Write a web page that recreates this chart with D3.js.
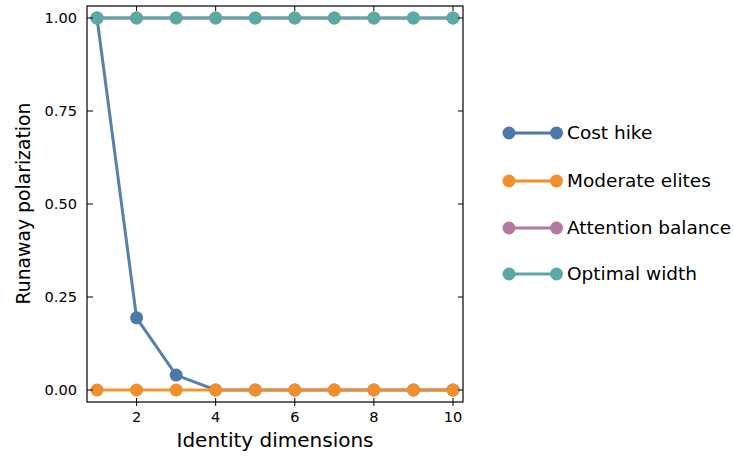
<!DOCTYPE html>
<html><head><meta charset="utf-8">
<script src="https://cdn.jsdelivr.net/npm/d3@7"></script>
<style>body{margin:0;background:#fff}svg{display:block;font-family:"DejaVu Sans",sans-serif}</style>
</head><body><svg id="c" width="734" height="456"></svg>
<script>
const dims = [1,2,3,4,5,6,7,8,9,10];
const costHike = [1.0,0.194,0.040,0,0,0,0,0,0,0];
const moderateElites = [0,0,0,0,0,0,0,0,0,0];
const attentionBalance = [1,1,1,1,1,1,1,1,1,1];
const optimalWidth = [1,1,1,1,1,1,1,1,1,1];
const seriesNames = ["Cost hike","Moderate elites","Attention balance","Optimal width"];
const seriesColors = ["#4e79a7","#f28e2b","#b07aa1","#5aa9a3"];
const xTicks = [2,4,6,8,10];
const yTicks = [0,0.25,0.5,0.75,1.0];

const series = [costHike, moderateElites, attentionBalance, optimalWidth];
const svg = d3.select("#c");
const L=87,R=463,T=6,B=402;
const x = d3.scaleLinear().domain([0.747,10.253]).range([L,R]);
const y = d3.scaleLinear().domain([-0.0323,1.0323]).range([B,T]);

const g = svg.append("g");
series.forEach((vals,i)=>{
  const pts = dims.map((d,j)=>[d,vals[j]]);
  g.append("path").datum(pts)
    .attr("fill","none").attr("stroke",seriesColors[i]).attr("stroke-width",3)
    .attr("stroke-opacity",0.95)
    .attr("d",d3.line().x(d=>x(d[0])).y(d=>y(d[1])));
  g.selectAll(null).data(pts).enter().append("circle")
    .attr("cx",d=>x(d[0])).attr("cy",d=>y(d[1])).attr("r",6.5)
    .attr("fill",seriesColors[i]);
});

svg.append("rect").attr("x",L).attr("y",T).attr("width",R-L).attr("height",B-T)
  .attr("fill","none").attr("stroke","#000").attr("stroke-width",1.2);

const xa = svg.append("g").attr("font-size",14.6).attr("fill","#000");
xTicks.forEach(t=>{
  const px = x(t);
  svg.append("line").attr("x1",px).attr("x2",px).attr("y1",B-4).attr("y2",B+4).attr("stroke","#000").attr("stroke-width",1);
  svg.append("line").attr("x1",px).attr("x2",px).attr("y1",T).attr("y2",T+5).attr("stroke","#000").attr("stroke-width",1);
  xa.append("text").attr("x",px).attr("y",B+20).attr("text-anchor","middle").text(d3.format("d")(t));
});
const ya = svg.append("g").attr("font-size",14.6).attr("fill","#000");
yTicks.forEach(t=>{
  const py = y(t);
  svg.append("line").attr("x1",L).attr("x2",L+6).attr("y1",py).attr("y2",py).attr("stroke","#000").attr("stroke-width",1);
  svg.append("line").attr("x1",R-5).attr("x2",R).attr("y1",py).attr("y2",py).attr("stroke","#000").attr("stroke-width",1);
  ya.append("text").attr("x",L-10).attr("y",py).attr("dy","0.35em").attr("text-anchor","end").text(d3.format(".2f")(t));
});

svg.append("text").attr("x",275).attr("y",447).attr("text-anchor","middle").attr("font-size",20).text("Identity dimensions");
svg.append("text").attr("transform",`translate(30,203.5) rotate(-90)`).attr("text-anchor","middle").attr("font-size",18.8).text("Runaway polarization");

const ly = [133,181,228,274];
seriesNames.forEach((n,i)=>{
  const lg = svg.append("g");
  lg.append("line").attr("x1",509).attr("x2",556.5).attr("y1",ly[i]).attr("y2",ly[i]).attr("stroke",seriesColors[i]).attr("stroke-width",3);
  [509,556.5].forEach(cx=>lg.append("circle").attr("cx",cx).attr("cy",ly[i]).attr("r",6.5).attr("fill",seriesColors[i]));
  lg.append("text").attr("x",567).attr("y",ly[i]).attr("dy","0.35em").attr("font-size",18.5).text(n);
});
</script></body></html>
